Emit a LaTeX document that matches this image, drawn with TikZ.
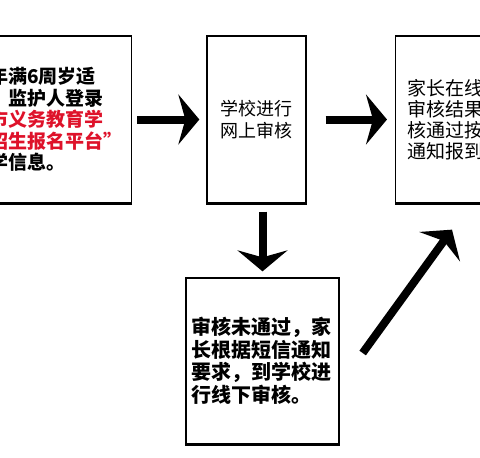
\documentclass[tikz,border=0pt]{standalone}
\usepackage{fontspec}
\newfontfamily\cjk{Noto Sans CJK SC}
\usetikzlibrary{positioning,calc,arrows.meta}
\definecolor{regred}{RGB}{222,18,42}
\tikzset{
flowbox/.style={rectangle, draw=black, line width=1.3pt, minimum height=167pt, inner sep=0pt},
bigarrow/.style={line width=8pt, -{Stealth[length=21pt,width=50pt,inset=7pt]}},
>={Latex[width=2mm,length=2mm]}
}

\begin{document}
\begin{tikzpicture}[x=1pt, y=-1pt, font=\cjk]

\useasboundingbox (0,0) rectangle (480,458);

%Flow nodes
\node[flowbox, anchor=east, text width=134pt, align=left, inner xsep=8pt, font=\cjk\bfseries\fontsize{19pt}{21.5pt}\selectfont] (register) at (132,119.5)
  {年满6周岁适\\，监护人登录\\\textcolor{regred}{市义务教育学}\\\textcolor{regred}{招生报名平台”}\\学信息。};
\node[flowbox, minimum width=99pt, align=center, font=\cjk\fontsize{18pt}{22pt}\selectfont] (online) at (256.5,119.5)
  {学校进行\\网上审核};
\node[flowbox, anchor=west, text width=116pt, align=left, inner xsep=12pt, font=\cjk\fontsize{19pt}{21pt}\selectfont] (result) at (395,119.5)
  {家长在线查看\\审核结果，审\\核通过按短信\\通知报到。};
\node[flowbox, minimum width=153pt, minimum height=166pt, text width=142pt, align=left, font=\cjk\bfseries\fontsize{20pt}{22.5pt}\selectfont] (offline) at (262.5,361)
  {审核未通过，家\\长根据短信通知\\要求，到学校进\\行线下审核。};

% thick lower edges
\foreach \n in {register,online,result,offline}
  \draw[line width=3.5pt] (\n.south west) -- (\n.south east);

%Arrows
\draw[bigarrow, shorten <=5pt, shorten >=7pt] (register.east) -- (register.east -| online.west);
\draw[bigarrow, shorten <=19pt, shorten >=8pt] (online.east) -- (online.east -| result.west);
\draw[bigarrow, shorten <=8pt, shorten >=6pt] (offline.north |- online.south) -- (offline.north);

\coordinate (back) at ($(offline.east)+(23,-8)$);
\coordinate (up) at ($(result.south west)+(57,26)$);
\draw[bigarrow] (back) -- (up);
\end{tikzpicture}
\end{document}
